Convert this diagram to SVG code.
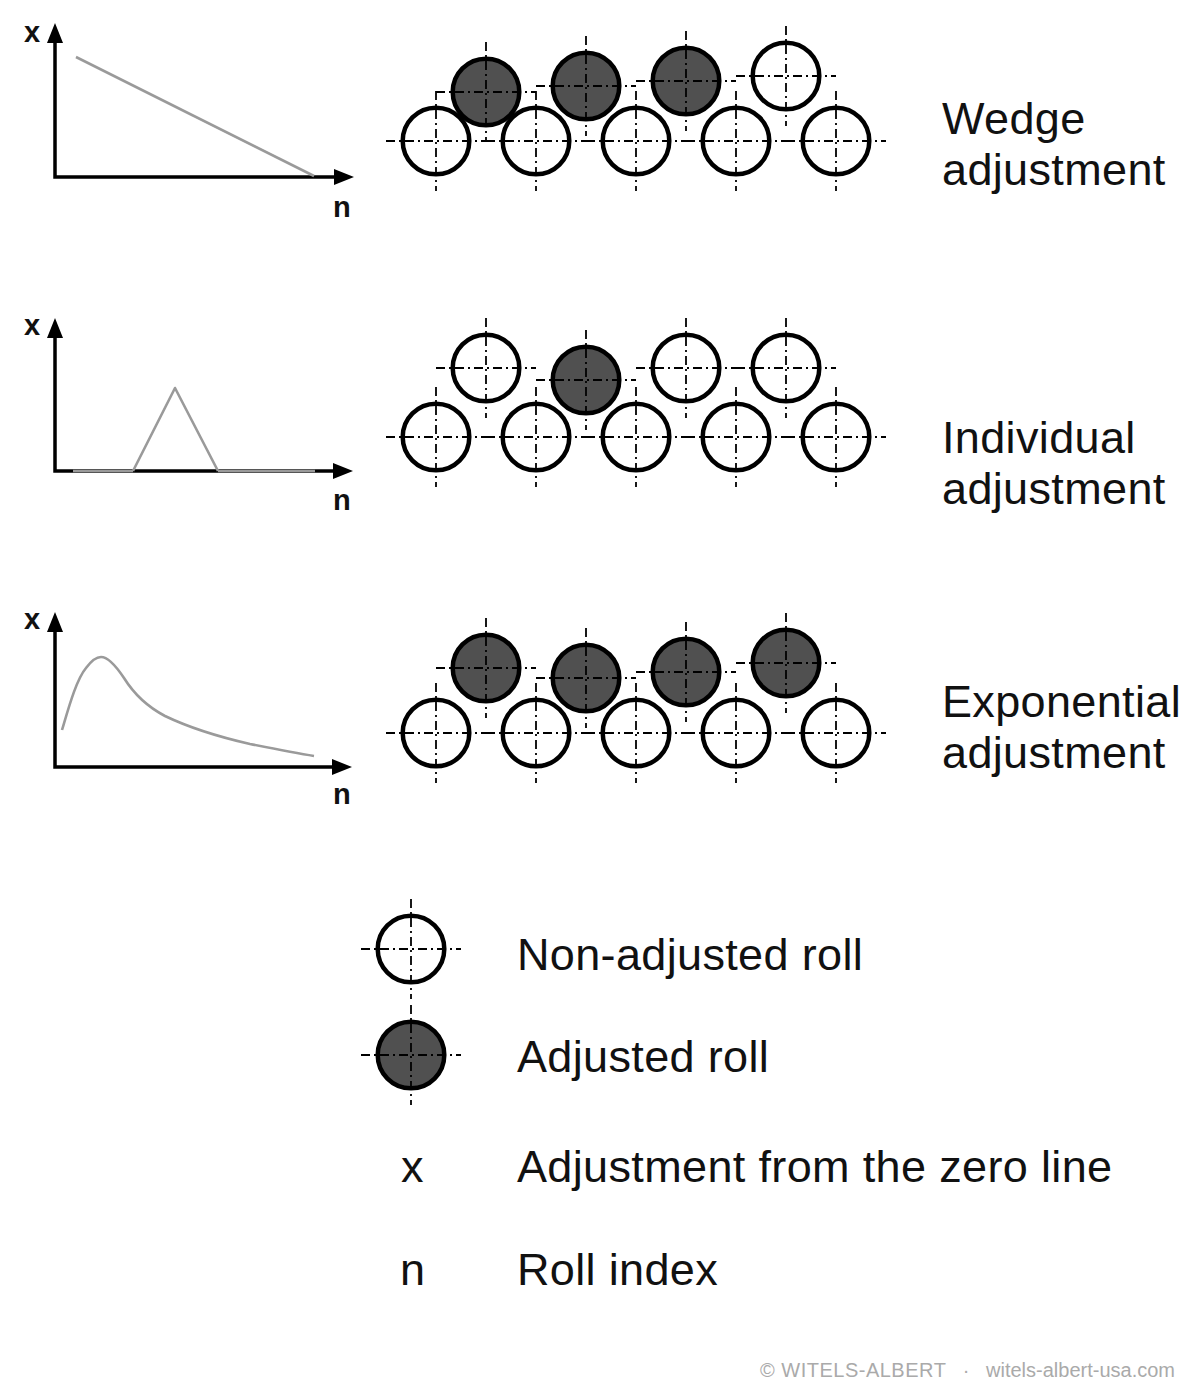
<svg xmlns="http://www.w3.org/2000/svg" xmlns:xlink="http://www.w3.org/1999/xlink" width="1200" height="1394" viewBox="0 0 1200 1394">
<style>
.axis{stroke:#000;stroke-width:3.5;fill:none}
.head{fill:#000}
.curve{stroke:#9a9a9a;stroke-width:2.6;fill:none;stroke-linejoin:round}
.ax{font-family:"Liberation Sans",Arial,sans-serif;font-size:29px;font-weight:bold;fill:#111}
.lbl{font-family:"Liberation Sans",Arial,sans-serif;font-size:45px;letter-spacing:0.35px;fill:#111}
.foot{font-family:"Liberation Sans",Arial,sans-serif;font-size:20px;fill:#aaa}
.open{fill:#fff;stroke:#000;stroke-width:4.5}
.adj{fill:#505050;stroke:#000;stroke-width:4.5}
.cl{stroke:#000;stroke-width:1.8;stroke-dasharray:9 4 2 4;fill:none}
</style>
<defs>
<g id="cross">
<line class="cl" x1="-50" y1="0" x2="50" y2="0"/>
<line class="cl" x1="0" y1="-50" x2="0" y2="50"/>
</g>
<g id="rollOpen"><circle class="open" r="33.3"/><use xlink:href="#cross"/></g>
<g id="rollAdj"><circle class="adj" r="33.3"/><use xlink:href="#cross"/></g>
</defs>
<rect width="1200" height="1394" fill="#fff"/>

<!-- Graph 1: wedge -->
<g id="graph-wedge">
<polyline class="axis" points="55,40 55,177 336,177"/>
<polygon class="head" points="55,23 47,43 63,43"/>
<polygon class="head" points="354,177 334,169 334,185"/>
<line class="curve" x1="76" y1="57" x2="314" y2="176"/>
<text class="ax" x="24" y="42">x</text>
<text class="ax" x="333" y="217">n</text>
</g>

<!-- Graph 2: individual -->
<g id="graph-individual">
<polyline class="axis" points="55,336 55,471 336,471"/>
<polygon class="head" points="55,318 47,338 63,338"/>
<polygon class="head" points="353,471 333,463 333,479"/>
<line class="curve" x1="73" y1="471" x2="133" y2="471"/>
<line class="curve" x1="218" y1="471" x2="315" y2="471"/>
<polyline class="curve" points="133,471 175,388 218,471"/>
<text class="ax" x="24" y="335">x</text>
<text class="ax" x="333" y="510">n</text>
</g>

<!-- Graph 3: exponential -->
<g id="graph-exponential">
<polyline class="axis" points="55,630 55,767 335,767"/>
<polygon class="head" points="55,612 47,632 63,632"/>
<polygon class="head" points="352,767 332,759 332,775"/>
<path class="curve" d="M62,730 C68,710 76,680 86,668 C92,660 97,657 101,657 C108,657 116,666 124,678 C134,694 146,706 165,716 C190,728 215,736 250,744 C275,749 295,753 314,756"/>
<text class="ax" x="24" y="629">x</text>
<text class="ax" x="333" y="804">n</text>
</g>

<!-- Row 1: wedge -->
<g id="row-wedge">
<use id="w-b1" xlink:href="#rollOpen" x="436" y="141"/>
<use id="w-b2" xlink:href="#rollOpen" x="536" y="141"/>
<use id="w-b3" xlink:href="#rollOpen" x="636" y="141"/>
<use id="w-b4" xlink:href="#rollOpen" x="736" y="141"/>
<use id="w-b5" xlink:href="#rollOpen" x="836" y="141"/>
<use id="w-t1" xlink:href="#rollAdj" x="486" y="92"/>
<use id="w-t2" xlink:href="#rollAdj" x="586" y="86"/>
<use id="w-t3" xlink:href="#rollAdj" x="686" y="81"/>
<use id="w-t4" xlink:href="#rollOpen" x="786" y="76"/>
</g>
<g id="label-wedge"><text class="lbl" x="942" y="134">Wedge</text><text class="lbl" x="942" y="185">adjustment</text></g>

<!-- Row 2: individual -->
<g id="row-individual">
<use id="i-b1" xlink:href="#rollOpen" x="436" y="437"/>
<use id="i-b2" xlink:href="#rollOpen" x="536" y="437"/>
<use id="i-b3" xlink:href="#rollOpen" x="636" y="437"/>
<use id="i-b4" xlink:href="#rollOpen" x="736" y="437"/>
<use id="i-b5" xlink:href="#rollOpen" x="836" y="437"/>
<use id="i-t1" xlink:href="#rollOpen" x="486" y="368"/>
<use id="i-t2" xlink:href="#rollAdj" x="586" y="380"/>
<use id="i-t3" xlink:href="#rollOpen" x="686" y="368"/>
<use id="i-t4" xlink:href="#rollOpen" x="786" y="368"/>
</g>
<g id="label-individual"><text class="lbl" x="942" y="453">Individual</text><text class="lbl" x="942" y="504">adjustment</text></g>

<!-- Row 3: exponential -->
<g id="row-exponential">
<use id="e-b1" xlink:href="#rollOpen" x="436" y="733"/>
<use id="e-b2" xlink:href="#rollOpen" x="536" y="733"/>
<use id="e-b3" xlink:href="#rollOpen" x="636" y="733"/>
<use id="e-b4" xlink:href="#rollOpen" x="736" y="733"/>
<use id="e-b5" xlink:href="#rollOpen" x="836" y="733"/>
<use id="e-t1" xlink:href="#rollAdj" x="486" y="668"/>
<use id="e-t2" xlink:href="#rollAdj" x="586" y="678"/>
<use id="e-t3" xlink:href="#rollAdj" x="686" y="672"/>
<use id="e-t4" xlink:href="#rollAdj" x="786" y="663"/>
</g>
<g id="label-exponential"><text class="lbl" x="942" y="717">Exponential</text><text class="lbl" x="942" y="768">adjustment</text></g>

<!-- Legend -->
<g id="legend">
<use id="legend-open" xlink:href="#rollOpen" x="411" y="949"/>
<use id="legend-adj" xlink:href="#rollAdj" x="411" y="1055"/>
<text class="lbl" x="401" y="1182">x</text>
<text class="lbl" x="400" y="1285">n</text>
<text class="lbl" x="517" y="970">Non-adjusted roll</text>
<text class="lbl" x="517" y="1072">Adjusted roll</text>
<text class="lbl" x="517" y="1182">Adjustment from the zero line</text>
<text class="lbl" x="517" y="1285">Roll index</text>
</g>

<g id="connectors"></g>

<g id="footer">
<text class="foot" x="760" y="1377" letter-spacing="0.5">© WITELS-ALBERT</text>
<text class="foot" x="966" y="1377" text-anchor="middle">·</text>
<text class="foot" x="1175" y="1377" text-anchor="end">witels-albert-usa.com</text>
</g>
</svg>
